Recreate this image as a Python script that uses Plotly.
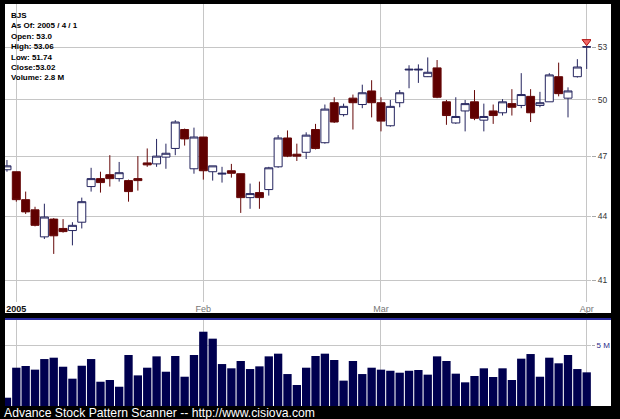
import plotly.graph_objects as go

# ---------------- data ----------------
dates = [
    "2004-12-31",
    "2005-01-03", "2005-01-04", "2005-01-05", "2005-01-06", "2005-01-07",
    "2005-01-10", "2005-01-11", "2005-01-12", "2005-01-13", "2005-01-14",
    "2005-01-18", "2005-01-19", "2005-01-20", "2005-01-21",
    "2005-01-24", "2005-01-25", "2005-01-26", "2005-01-27", "2005-01-28",
    "2005-01-31",
    "2005-02-01", "2005-02-02", "2005-02-03", "2005-02-04",
    "2005-02-07", "2005-02-08", "2005-02-09", "2005-02-10", "2005-02-11",
    "2005-02-14", "2005-02-15", "2005-02-16", "2005-02-17", "2005-02-18",
    "2005-02-22", "2005-02-23", "2005-02-24", "2005-02-25",
    "2005-02-28",
    "2005-03-01", "2005-03-02", "2005-03-03", "2005-03-04",
    "2005-03-07", "2005-03-08", "2005-03-09", "2005-03-10", "2005-03-11",
    "2005-03-14", "2005-03-15", "2005-03-16", "2005-03-17", "2005-03-18",
    "2005-03-21", "2005-03-22", "2005-03-23", "2005-03-24",
    "2005-03-28", "2005-03-29", "2005-03-30", "2005-03-31",
    "2005-04-01",
]

open_ = [46.3, 46.2, 44.8, 44.3, 43.0, 43.85, 43.4, 43.3, 43.7, 45.45,
         45.85, 46.05, 45.85, 45.75, 45.85, 46.65, 46.6, 46.95, 47.4, 48.4,
         46.35, 48.0, 46.2, 46.08, 46.25, 46.1, 44.9, 45.15, 45.3, 46.45,
         47.95, 47.1, 47.2, 48.4, 47.7, 49.85, 49.2, 50.1, 49.75, 50.5,
         49.85, 48.6, 49.85, 51.68, 51.68, 51.3, 51.8, 49.9, 48.75, 49.4,
         49.9, 48.9, 49.4, 49.3, 49.8, 49.7, 50.2, 49.7, 49.9, 51.3,
         50.1, 51.3, 53.0]
high = [46.8, 46.2, 45.2, 44.45, 44.6, 43.9, 43.85, 43.7, 44.9, 46.4,
        46.2, 47.05, 46.7, 45.8, 47.0, 47.4, 47.9, 47.65, 48.9, 48.45,
        48.5, 48.0, 46.5, 46.45, 46.6, 46.1, 45.6, 45.7, 46.45, 48.1,
        48.35, 47.65, 48.25, 48.7, 49.75, 50.15, 49.8, 50.3, 50.85, 51.1,
        50.15, 50.0, 50.55, 51.95, 52.0, 52.4, 52.25, 50.0, 50.15, 50.0,
        50.55, 49.8, 49.75, 50.05, 50.6, 51.5, 50.6, 50.45, 51.5, 52.1,
        50.7, 52.3, 53.06]
low = [46.2, 44.7, 44.1, 43.5, 42.9, 42.2, 43.2, 42.6, 43.4, 45.2,
       45.15, 45.45, 45.7, 44.7, 45.25, 46.45, 46.45, 46.35, 47.05, 47.55,
       46.1, 45.8, 45.75, 45.65, 45.9, 44.15, 44.35, 44.35, 45.0, 46.4,
       46.95, 46.75, 46.85, 47.35, 47.65, 48.75, 49.1, 48.4, 49.55, 49.05,
       48.3, 48.55, 49.6, 50.65, 50.95, 51.28, 50.1, 48.65, 48.7, 48.3,
       48.9, 48.3, 48.7, 49.15, 49.15, 49.55, 48.8, 49.6, 49.9, 50.2,
       49.05, 51.25, 51.74]
close = [46.5, 44.8, 44.2, 43.55, 43.95, 43.05, 43.25, 43.55, 44.7, 45.85,
         45.65, 45.85, 46.15, 45.2, 45.75, 46.55, 47.0, 47.15, 48.8, 47.9,
         48.0, 46.25, 46.5, 46.12, 46.12, 44.9, 45.1, 44.9, 46.4, 47.95,
         47.0, 47.0, 48.1, 47.4, 49.5, 48.8, 49.65, 49.85, 50.4, 49.85,
         48.85, 49.65, 50.4, 51.72, 51.72, 51.55, 50.15, 49.15, 49.1, 49.8,
         49.0, 49.1, 49.15, 49.9, 49.6, 50.3, 49.3, 49.85, 51.4, 50.35,
         50.5, 51.85, 53.02]
volume_m = [0.68, 3.14, 3.28, 2.98, 3.85, 3.96, 3.22, 2.24, 3.30, 3.85,
            1.99, 2.13, 1.58, 4.18, 2.51, 3.14, 4.07, 2.81, 4.10, 2.40,
            4.18, 6.09, 5.52, 3.44, 3.09, 3.69, 3.03, 3.25, 4.07, 4.29,
            2.62, 1.72, 3.14, 4.10, 4.29, 3.77, 2.08, 3.69, 2.62, 3.14,
            2.98, 2.89, 2.73, 2.89, 2.95, 2.57, 4.07, 3.69, 2.65, 1.94,
            2.46, 3.09, 2.38, 3.09, 2.13, 3.88, 4.26, 2.40, 3.96, 3.50,
            4.18, 3.03, 2.76]

signal_dates = ["2005-04-01"]
signal_prices = [53.32]

x_tick_dates = ["2005-01-03", "2005-02-01", "2005-03-01", "2005-04-01"]
x_tick_labels = ["<b><span style='color:#111'>2005</span></b>", "Feb", "Mar", "Apr"]
price_ticks = [41, 44, 47, 50, 53]
volume_ticks = [5]
volume_tick_labels = ["5 M"]

symbol = "BJS"
as_of = "2005 / 4 / 1"

# ---------------- figure ----------------
FONT = "Liberation Sans, Arial, sans-serif"
GRID = "#c6c6c6"
xr = [-0.21, 62.46]

fig = go.Figure()

fig.add_trace(go.Candlestick(
    x=dates, open=open_, high=high, low=low, close=close,
    increasing=dict(fillcolor="#ffffff", line=dict(color="#24245e", width=1)),
    decreasing=dict(fillcolor="#600000", line=dict(color="#660808", width=1)),
    xaxis="x", yaxis="y", showlegend=False, hoverinfo="skip",
))

fig.add_trace(go.Scatter(
    x=signal_dates, y=signal_prices, mode="markers",
    marker=dict(symbol="triangle-down", size=8, color="#f06868",
                line=dict(color="#b01010", width=1)),
    xaxis="x", yaxis="y", showlegend=False, hoverinfo="skip",
))

fig.add_trace(go.Bar(
    x=dates, y=volume_m, marker=dict(color="#00004f", line=dict(width=0)),
    xaxis="x2", yaxis="y2", showlegend=False, hoverinfo="skip",
))

main_bottom = (406 - 302) / 402
vol_top = (406 - 320) / 402

axis_common = dict(
    type="category", categoryorder="array", categoryarray=dates,
    range=xr, tickvals=x_tick_dates, showgrid=True, gridcolor=GRID,
    gridwidth=1, zeroline=False, showline=False, ticks="", fixedrange=True,
)

fig.update_layout(
    width=620, height=419,
    margin=dict(l=5, r=29, t=4, b=13, pad=0, autoexpand=False),
    paper_bgcolor="#000000", plot_bgcolor="#ffffff",
    font=dict(family=FONT),
    boxgap=0.1, boxgroupgap=0.05, bargap=0.11,
    xaxis=dict(**axis_common, domain=[0, 1], anchor="y",
               ticktext=x_tick_labels,
               tickfont=dict(size=9, color="#777777", family=FONT),
               rangeslider=dict(visible=False)),
    yaxis=dict(type="log", domain=[main_bottom, 1], anchor="x", side="right",
               range=[1.6023, 1.7449], tickvals=price_ticks,
               ticktext=[str(t) for t in price_ticks],
               ticks="outside", ticklen=4, tickcolor="#aaaaaa",
               tickfont=dict(size=8.5, color="#333333", family=FONT),
               showgrid=True, gridcolor=GRID, zeroline=False, showline=False,
               fixedrange=True),
    xaxis2=dict(**axis_common, domain=[0, 1], anchor="y2",
                showticklabels=False),
    yaxis2=dict(domain=[0, vol_top], anchor="x2", side="right",
                range=[0, 7.05], tickvals=volume_ticks,
                ticktext=volume_tick_labels, ticks="outside", ticklen=3,
                tickcolor="#aaaaaa",
                tickfont=dict(size=8, color="#2a2a88", family=FONT),
                showgrid=True, gridcolor=GRID, zeroline=False, showline=False,
                fixedrange=True),
)

x_right = (611 - 5) / 586
fig.add_shape(type="rect", xref="paper", yref="paper", layer="below",
              x0=0, x1=x_right, y0=(406 - 313) / 402, y1=1,
              fillcolor="#ffffff", line=dict(width=0))
fig.add_shape(type="rect", xref="paper", yref="paper", layer="below",
              x0=0, x1=x_right, y0=0, y1=vol_top,
              fillcolor="#ffffff", line=dict(width=0))
fig.add_shape(type="line", xref="paper", yref="paper", layer="above",
              x0=0, x1=x_right, y0=(406 - 319) / 402, y1=(406 - 319) / 402,
              line=dict(color="#2c2ca0", width=2))

info = [
    symbol,
    f"As Of: {as_of}",
    f"Open: {open_[-1]}",
    f"High: {high[-1]}",
    f"Low: {low[-1]}",
    f"Close:{close[-1]}",
    f"Volume: {volume_m[-1]:.1f} M",
]
fig.add_annotation(
    xref="paper", yref="paper", x=(9 - 5) / 586, y=(406 - 9) / 402,
    xanchor="left", yanchor="top", align="left", showarrow=False,
    text="<br>".join(f"<b>{s}</b>" for s in info),
    font=dict(size=8, color="#000000", family=FONT),
)
fig.add_annotation(
    xref="paper", yref="paper", x=(2 - 5) / 586, y=(406 - 413) / 402,
    xanchor="left", yanchor="middle", showarrow=False,
    text="Advance Stock Pattern Scanner -- http://www.cisiova.com",
    font=dict(size=12.2, color="#ffffff", family=FONT),
)

fig.write_html(
    "out.html",
    config={"displayModeBar": False, "staticPlot": True},
    post_script="document.body.style.margin='0';"
                "document.body.style.background='#000';"
                "document.body.style.overflow='hidden';",
)
